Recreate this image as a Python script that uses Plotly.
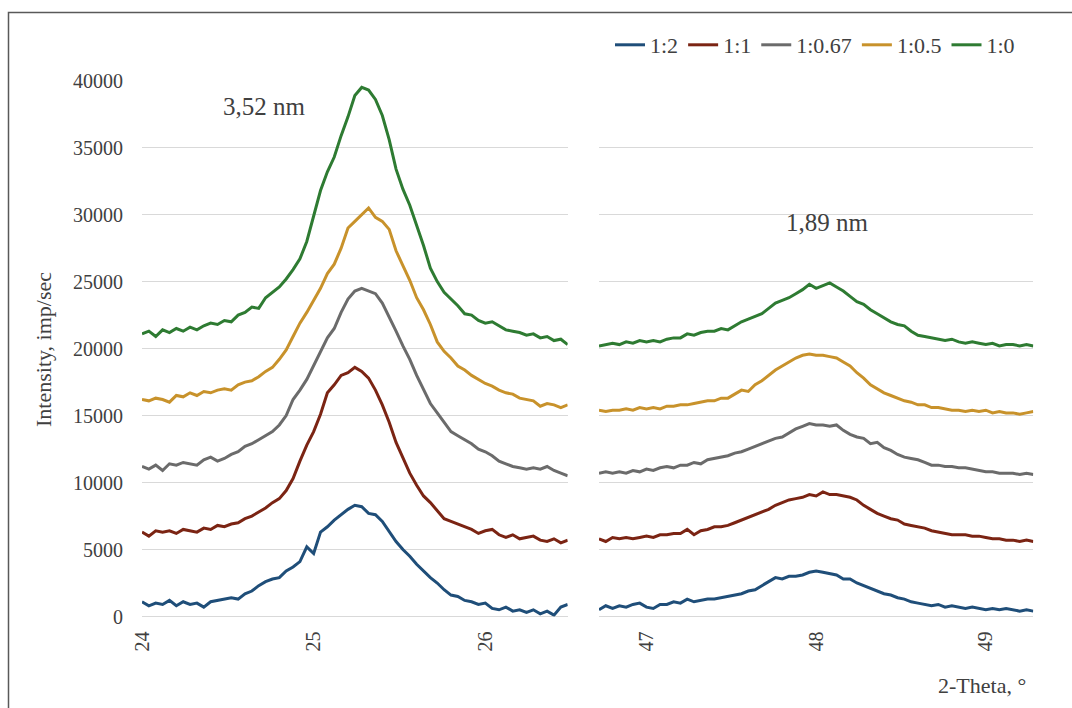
import numpy as np
import plotly.graph_objects as go

# ---------------- data ----------------
labels = ["1:2", "1:1", "1:0.67", "1:0.5", "1:0"]
colors = ["#1F4E79", "#7B2413", "#6B6B6B", "#C8922B", "#2E7B32"]

x_left_start, x_right_start, x_step = 24.00, 46.72, 0.04

left_12 = [1100, 800, 1000, 900, 1200, 800, 1100, 900, 1000, 700, 1100, 1200, 1300, 1400, 1300, 1700,
           1900, 2300, 2600, 2800, 2900, 3400, 3700, 4100, 5200, 4700, 6300, 6700, 7200, 7600, 8000, 8300,
           8200, 7700, 7600, 7100, 6300, 5600, 5000, 4500, 3900, 3400, 2900, 2500, 2000, 1600, 1500, 1200,
           1100, 900, 1000, 600, 500, 700, 400, 500, 300, 500, 200, 400, 100, 700, 900]
left_11 = [6300, 6000, 6400, 6300, 6400, 6200, 6500, 6400, 6300, 6600, 6500, 6800, 6700, 6900, 7000, 7300,
           7500, 7800, 8100, 8500, 8800, 9400, 10300, 11600, 12800, 13800, 15100, 16700, 17300, 18000, 18200, 18600,
           18300, 17800, 16900, 15800, 14500, 13000, 11800, 10700, 9800, 9000, 8500, 7900, 7300, 7100, 6900, 6700,
           6500, 6200, 6400, 6500, 6100, 5900, 6100, 5800, 5900, 6000, 5700, 5600, 5800, 5500, 5700]
left_1067 = [11200, 11000, 11300, 10900, 11400, 11300, 11500, 11400, 11300, 11700, 11900, 11600, 11800, 12100, 12300, 12700,
             12900, 13200, 13500, 13800, 14300, 15000, 16200, 16900, 17700, 18700, 19800, 20800, 21500, 22700, 23700, 24300,
             24500, 24300, 24100, 23400, 22400, 21300, 20200, 19200, 18000, 16900, 15900, 15200, 14500, 13800, 13500, 13200,
             12900, 12500, 12300, 12000, 11600, 11400, 11200, 11100, 11000, 11100, 11000, 11200, 10900, 10700, 10500]
left_105 = [16200, 16100, 16300, 16200, 16000, 16500, 16400, 16700, 16500, 16800, 16700, 16900, 17000, 16900, 17300, 17500,
            17600, 17900, 18300, 18600, 19200, 19900, 20900, 21900, 22700, 23600, 24500, 25600, 26300, 27500, 29000, 29500,
            30000, 30500, 29800, 29500, 28900, 27300, 26200, 25100, 23800, 22900, 21800, 20500, 19800, 19300, 18700, 18400,
            18000, 17700, 17400, 17200, 16900, 16700, 16600, 16300, 16200, 16100, 15700, 15900, 15800, 15600, 15800]
left_10 = [21100, 21300, 20900, 21400, 21200, 21500, 21300, 21600, 21400, 21700, 21900, 21800, 22100, 22000, 22500, 22700,
           23100, 23000, 23800, 24200, 24600, 25200, 25900, 26700, 28000, 29900, 31800, 33200, 34300, 35900, 37300, 38900,
           39500, 39300, 38600, 37400, 35600, 33400, 31900, 30700, 29200, 27700, 26000, 25000, 24200, 23700, 23200, 22600,
           22500, 22100, 21900, 22000, 21700, 21400, 21300, 21200, 21000, 21100, 20800, 20900, 20600, 20700, 20300]

right_12 = [500, 800, 600, 800, 700, 900, 1000, 700, 600, 900, 900, 1100, 1000, 1300, 1100, 1200,
            1300, 1300, 1400, 1500, 1600, 1700, 1900, 2000, 2300, 2600, 2900, 2800, 3000, 3000, 3100, 3300,
            3400, 3300, 3200, 3100, 2800, 2800, 2500, 2300, 2100, 1900, 1700, 1600, 1400, 1300, 1100, 1000,
            900, 800, 900, 700, 800, 700, 600, 700, 600, 500, 600, 500, 600, 500, 400, 500, 400]
right_11 = [5800, 5600, 5900, 5800, 5900, 5800, 5900, 6000, 5900, 6100, 6100, 6200, 6200, 6500, 6100, 6400,
            6500, 6700, 6700, 6800, 7000, 7200, 7400, 7600, 7800, 8000, 8300, 8500, 8700, 8800, 8900, 9100,
            9000, 9300, 9100, 9100, 9000, 8900, 8700, 8300, 8000, 7700, 7500, 7300, 7200, 6900, 6800, 6700,
            6600, 6400, 6300, 6200, 6100, 6100, 6100, 6000, 6000, 5900, 5800, 5800, 5700, 5700, 5600, 5700, 5600]
right_1067 = [10700, 10800, 10700, 10800, 10700, 10900, 10800, 11000, 10900, 11100, 11200, 11100, 11300, 11300, 11500, 11400,
              11700, 11800, 11900, 12000, 12200, 12300, 12500, 12700, 12900, 13100, 13300, 13400, 13700, 14000, 14200, 14400,
              14300, 14300, 14200, 14300, 13900, 13600, 13400, 13300, 12900, 13000, 12600, 12400, 12100, 11900, 11800, 11700,
              11500, 11300, 11300, 11200, 11200, 11100, 11100, 11000, 10900, 10800, 10800, 10700, 10700, 10700, 10600, 10700, 10600]
right_105 = [15400, 15300, 15400, 15400, 15500, 15400, 15600, 15500, 15600, 15500, 15700, 15700, 15800, 15800, 15900, 16000,
             16100, 16100, 16300, 16300, 16600, 16900, 16800, 17300, 17600, 18000, 18400, 18700, 19000, 19300, 19500, 19600,
             19500, 19500, 19400, 19300, 19000, 18700, 18200, 17800, 17300, 17000, 16700, 16500, 16300, 16100, 16000, 15800,
             15800, 15600, 15600, 15500, 15400, 15400, 15300, 15400, 15300, 15400, 15200, 15300, 15200, 15200, 15100, 15200, 15300]
right_10 = [20200, 20300, 20400, 20300, 20500, 20400, 20600, 20500, 20600, 20500, 20700, 20800, 20800, 21100, 21000, 21200,
            21300, 21300, 21500, 21400, 21700, 22000, 22200, 22400, 22600, 23000, 23400, 23600, 23800, 24100, 24400, 24800,
            24500, 24700, 24900, 24600, 24300, 23900, 23500, 23300, 22900, 22600, 22300, 22000, 21800, 21700, 21300, 21000,
            20900, 20800, 20700, 20600, 20700, 20500, 20400, 20500, 20400, 20300, 20400, 20200, 20300, 20300, 20200, 20300, 20200]

left_series = [left_12, left_11, left_1067, left_105, left_10]
right_series = [right_12, right_11, right_1067, right_105, right_10]

y_ticks = [0, 5000, 10000, 15000, 20000, 25000, 30000, 35000, 40000]
x_left_ticks = [24, 25, 26]
x_right_ticks = [47, 48, 49]

# ---------------- figure ----------------
W, H = 1072, 708
FONT = "Liberation Serif, Times New Roman, serif"
TXT = "#404040"

def px_x(p):
    return p / W

def px_y(p):
    return 1 - p / H

x_left = np.round(x_left_start + x_step * np.arange(len(left_10)), 2)
x_right = np.round(x_right_start + x_step * np.arange(len(right_10)), 2)

fig = go.Figure()
for i, lab in enumerate(labels):
    fig.add_trace(go.Scatter(x=x_left, y=left_series[i], mode="lines", name=lab,
                             legendgroup=lab, line=dict(color=colors[i], width=3),
                             xaxis="x", yaxis="y"))
for i, lab in enumerate(labels):
    fig.add_trace(go.Scatter(x=x_right, y=right_series[i], mode="lines", name=lab,
                             legendgroup=lab, showlegend=False,
                             line=dict(color=colors[i], width=3),
                             xaxis="x2", yaxis="y2"))

ydom = [px_y(616.5), px_y(80.7)]
grid = "#D9D9D9"
common_x = dict(showgrid=False, zeroline=False, showline=False, ticks="",
                tickangle=-90, tickfont=dict(family=FONT, size=20, color=TXT),
                ticklabelstandoff=10, automargin=False)
common_y = dict(range=[0, 40000], tickvals=y_ticks, tickformat="d", showgrid=True, gridcolor=grid,
                gridwidth=1, zeroline=True, zerolinecolor=grid, zerolinewidth=1,
                showline=False, ticks="", automargin=False)

fig.update_layout(
    width=W, height=H, margin=dict(l=0, r=0, t=0, b=0, autoexpand=False),
    paper_bgcolor="white", plot_bgcolor="white",
    font=dict(family=FONT, color=TXT),
    xaxis=dict(domain=[px_x(142), px_x(567.7)], range=[24.0, 26.48],
               tickvals=x_left_ticks, anchor="y", **common_x),
    xaxis2=dict(domain=[px_x(599), px_x(1033.3)], range=[46.72, 49.28],
                tickvals=x_right_ticks, anchor="y2", **common_x),
    yaxis=dict(domain=ydom, anchor="x", showticklabels=True,
               tickfont=dict(family=FONT, size=20, color=TXT),
               ticklabelstandoff=18, **common_y),
    yaxis2=dict(domain=ydom, anchor="x2", showticklabels=False, **common_y),
    showlegend=True,
    legend=dict(orientation="h", x=px_x(610), xanchor="left", y=px_y(45), yanchor="middle",
                font=dict(family=FONT, size=22, color=TXT), bgcolor="rgba(0,0,0,0)",
                itemwidth=30, tracegroupgap=0),
    annotations=[
        dict(text="3,52 nm", x=px_x(264), y=px_y(107), xref="paper", yref="paper",
             xanchor="center", yanchor="middle",
             showarrow=False, font=dict(family=FONT, size=25, color=TXT)),
        dict(text="1,89 nm", x=px_x(827), y=px_y(222), xref="paper", yref="paper",
             xanchor="center", yanchor="middle",
             showarrow=False, font=dict(family=FONT, size=25, color=TXT)),
        dict(text="Intensity, imp/sec", x=px_x(44), y=px_y(350), xref="paper", yref="paper",
             xanchor="center", yanchor="middle",
             textangle=-90, showarrow=False, font=dict(family=FONT, size=22, color=TXT)),
        dict(text="2-Theta, °", x=px_x(1028), y=px_y(685), xref="paper", yref="paper",
             xanchor="right", yanchor="middle", showarrow=False,
             font=dict(family=FONT, size=22, color=TXT)),
    ],
    shapes=[
        dict(type="rect", xref="paper", yref="paper", x0=px_x(8.5), y0=px_y(12.5),
             x1=1.05, y1=-0.05, line=dict(color="#595959", width=1.5)),
    ],
)

fig.write_html("out.html")
